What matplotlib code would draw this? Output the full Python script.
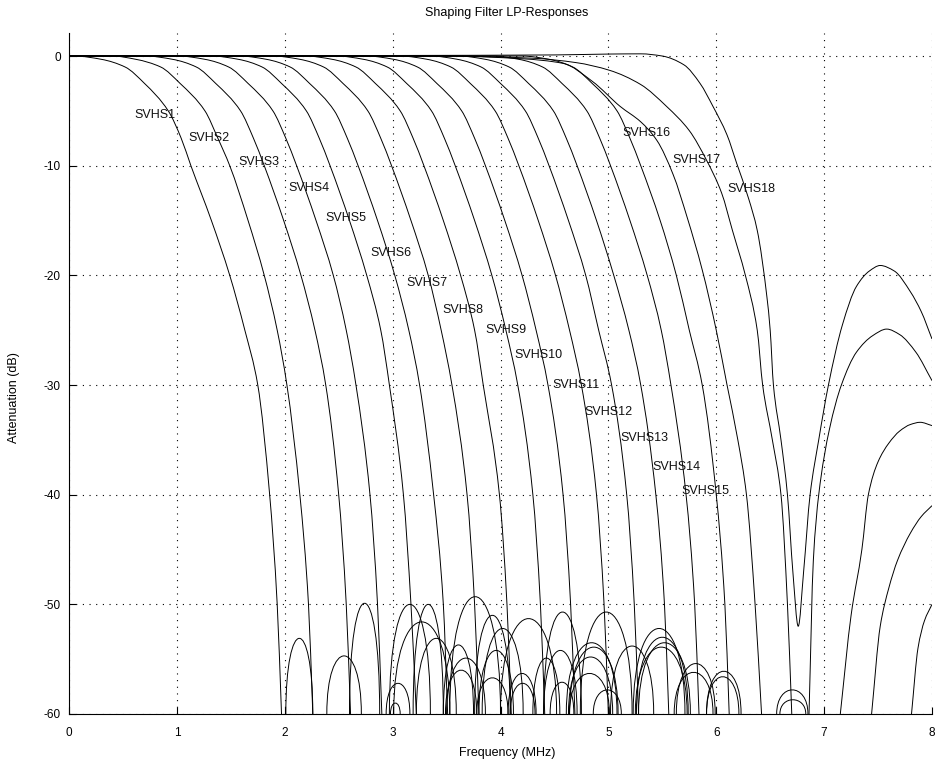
import matplotlib
matplotlib.use("Agg")
import matplotlib.pyplot as plt
from matplotlib.path import Path
from matplotlib.patches import PathPatch

# ---------------- data ----------------
# dB levels at which the main lobes of SVHS1..SVHS15 were read
# (first two entries: origin and the point where the curve leaves the 0 dB line)
levels = [0, 0, -0.3, -1, -2.5, -5, -7.5, -10, -15, -20, -25, -30, -40, -50, -60]

svhs1 = [0, 0.05, 0.30, 0.52, 0.70, 0.92, 1.04, 1.13, 1.32, 1.49, 1.63, 1.75, 1.86, 1.93, 1.97]
svhs2 = [0, 0.40, 0.62, 0.85, 1.03, 1.26, 1.38, 1.49, 1.66, 1.81, 1.93, 2.02, 2.14, 2.22, 2.26]
svhs3 = [0, 0.71, 0.96, 1.18, 1.36, 1.59, 1.71, 1.81, 1.99, 2.15, 2.28, 2.38, 2.50, 2.57, 2.61]
svhs4 = [0, 1.01, 1.26, 1.48, 1.66, 1.89, 2.01, 2.11, 2.29, 2.45, 2.57, 2.66, 2.79, 2.86, 2.90]
svhs5 = [0, 1.32, 1.57, 1.79, 1.97, 2.20, 2.32, 2.42, 2.60, 2.76, 2.89, 2.97, 3.10, 3.17, 3.22]
svhs6 = [0, 1.58, 1.83, 2.05, 2.23, 2.46, 2.58, 2.68, 2.86, 3.02, 3.15, 3.25, 3.38, 3.47, 3.51]
svhs7 = [0, 1.89, 2.14, 2.36, 2.54, 2.77, 2.89, 2.99, 3.17, 3.33, 3.45, 3.55, 3.69, 3.76, 3.80]
svhs8 = [0, 2.19, 2.44, 2.66, 2.84, 3.07, 3.19, 3.29, 3.47, 3.63, 3.76, 3.84, 3.99, 4.06, 4.10]
svhs9 = [0, 2.48, 2.73, 2.95, 3.13, 3.36, 3.48, 3.58, 3.76, 3.92, 4.05, 4.16, 4.30, 4.37, 4.41]
svhs10 = [0, 2.76, 3.01, 3.23, 3.41, 3.64, 3.76, 3.86, 4.04, 4.20, 4.33, 4.44, 4.58, 4.65, 4.69]
svhs11 = [0, 3.07, 3.32, 3.54, 3.72, 3.95, 4.07, 4.17, 4.35, 4.51, 4.64, 4.75, 4.89, 4.96, 5.00]
svhs12 = [0, 3.35, 3.60, 3.82, 4.00, 4.23, 4.35, 4.45, 4.63, 4.79, 4.91, 5.03, 5.17, 5.24, 5.28]
svhs13 = [0, 3.61, 3.86, 4.08, 4.26, 4.49, 4.61, 4.71, 4.89, 5.05, 5.19, 5.30, 5.44, 5.52, 5.56]
svhs14 = [0, 3.92, 4.17, 4.39, 4.57, 4.80, 4.92, 5.02, 5.20, 5.36, 5.49, 5.58, 5.72, 5.80, 5.84]
svhs15 = [0, 4.20, 4.45, 4.67, 4.85, 5.08, 5.20, 5.30, 5.48, 5.63, 5.75, 5.87, 6.00, 6.08, 6.12]

svhs16_f = [0, 3.5, 4.2, 4.58, 4.85, 5.11, 5.30, 5.45, 5.60, 5.73, 5.87, 6.00, 6.10, 6.20, 6.28, 6.36, 6.42]
svhs16_db = [0, 0, -0.25, -0.67, -2.3, -4.6, -6.0, -7.7, -10.8, -14.7, -19.5, -25, -30, -35, -40, -50, -60]

svhs17_f = [0, 3.5, 4.3, 4.7, 5.01, 5.30, 5.54, 5.75, 5.91, 6.05, 6.15, 6.27, 6.38, 6.43, 6.52, 6.60, 6.66, 6.70]
svhs17_db = [0, 0, -0.2, -0.6, -1.3, -2.6, -4.6, -6.8, -9.5, -12.5, -15.9, -20, -25, -30, -35, -40, -50, -60]

svhs18_f = [0, 3.0, 4.5, 5.0, 5.3, 5.5, 5.7, 5.85, 5.97, 6.10, 6.19, 6.30, 6.38, 6.47, 6.50, 6.53,
            6.60, 6.66, 6.71, 6.76, 6.81, 6.87, 6.95, 7.04, 7.17, 7.30, 7.42, 7.52, 7.65, 7.80, 7.90, 8.0]
svhs18_db = [0, 0.05, 0.1, 0.18, 0.2, 0, -0.8, -2.5, -4.6, -7.2, -9.8, -13, -15.9, -22, -25, -30,
             -35, -40, -47, -52, -47, -40, -35, -30, -24.5, -21, -19.6, -19.1, -19.6, -21.5, -23.3, -25.8]

# large stop-band lobes on the right
lobeB_f = [6.86, 6.90, 6.95, 7.05, 7.16, 7.30, 7.45, 7.58, 7.70, 7.85, 8.0]
lobeB_db = [-60, -46, -40, -34, -30, -27, -25.5, -24.9, -25.4, -27, -29.6]
lobeC_f = [7.15, 7.25, 7.35, 7.41, 7.50, 7.60, 7.70, 7.80, 7.89, 8.0]
lobeC_db = [-60, -51, -45, -40, -37, -35.3, -34.2, -33.6, -33.4, -33.7]
lobeD_f = [7.44, 7.52, 7.60, 7.68, 7.80, 7.90, 8.0]
lobeD_db = [-60, -52, -48.5, -46, -43.5, -42, -41]
lobeE_f = [7.81, 7.87, 7.93, 8.0]
lobeE_db = [-60, -54, -51.5, -50]

# small stop-band ripples at the floor: left foot, right foot, peak level (dB)
ripple_left = [2.01, 2.39, 2.60, 2.97, 3.19, 3.01, 3.22, 3.53, 3.76, 3.83, 4.00, 4.40,
               2.94, 2.98, 3.47, 3.50, 3.49, 3.78, 3.80, 4.07, 4.09, 4.30, 4.40, 4.46,
               4.74, 4.61, 4.64, 4.63, 4.64, 4.86, 5.02, 5.23, 5.26, 5.28, 5.25, 5.63,
               5.61, 5.91, 5.91, 6.56, 6.59]
ripple_right = [2.26, 2.71, 2.88, 3.35, 3.47, 3.53, 3.59, 4.00, 4.09, 4.21, 4.52, 4.75,
                3.16, 3.07, 3.75, 3.86, 3.78, 4.07, 4.12, 4.33, 4.32, 4.55, 4.71, 4.68,
                5.22, 5.08, 5.09, 5.04, 5.01, 5.12, 5.42, 5.71, 5.74, 5.76, 5.73, 5.99,
                5.97, 6.23, 6.21, 6.85, 6.83]
ripple_peak = [-53.1, -54.7, -49.9, -50.0, -50.0, -51.6, -53.1, -49.3, -51.0, -52.2, -51.3, -50.7,
               -57.2, -59.0, -53.7, -54.9, -56.0, -56.7, -54.2, -56.3, -57.2, -54.9, -54.2, -57.1,
               -50.7, -53.5, -53.9, -54.8, -56.3, -57.8, -53.8, -52.2, -53.0, -53.5, -53.9, -55.4,
               -56.2, -56.1, -56.6, -57.8, -58.7]

labels = ["SVHS%d" % i for i in range(1, 19)]
label_f = [0.61, 1.11, 1.57, 2.03, 2.38, 2.79, 3.13, 3.46, 3.86, 4.13, 4.48, 4.78, 5.11,
           5.41, 5.68, 5.13, 5.59, 6.10]
label_db = [-5.4, -7.5, -9.7, -12.0, -14.8, -18.0, -20.7, -23.2, -25.0, -27.3, -30.0, -32.5,
            -34.8, -37.5, -39.7, -7.0, -9.5, -12.1]

xticks = [0, 1, 2, 3, 4, 5, 6, 7, 8]
yticks = [0, -10, -20, -30, -40, -50, -60]


# ---------------- drawing helpers ----------------
def smooth_path(xs, ys):
    """Shape-preserving (monotone cubic Hermite) Bezier path through the read points."""
    n = len(xs)
    h = [xs[k + 1] - xs[k] for k in range(n - 1)]
    d = [(ys[k + 1] - ys[k]) / h[k] for k in range(n - 1)]
    m = [0.0] * n
    m[0] = d[0]
    m[-1] = d[-1]
    for k in range(1, n - 1):
        if d[k - 1] * d[k] <= 0:
            m[k] = 0.0
        else:
            w1 = 2 * h[k] + h[k - 1]
            w2 = h[k] + 2 * h[k - 1]
            m[k] = (w1 + w2) / (w1 / d[k - 1] + w2 / d[k])
    verts = [(xs[0], ys[0])]
    codes = [Path.MOVETO]
    for k in range(n - 1):
        verts += [(xs[k] + h[k] / 3.0, ys[k] + m[k] * h[k] / 3.0),
                  (xs[k + 1] - h[k] / 3.0, ys[k + 1] - m[k + 1] * h[k] / 3.0),
                  (xs[k + 1], ys[k + 1])]
        codes += [Path.CURVE4] * 3
    return Path(verts, codes)


plt.rcParams['font.family'] = ['Liberation Sans', 'DejaVu Sans']
plt.rcParams['axes.unicode_minus'] = False
fig = plt.figure(figsize=(9.38, 7.69), dpi=100)
ax = fig.add_axes([69 / 938, 55 / 769, 863 / 938, 681 / 769])

lw = 0.7
col = 'black'


def draw(xs, ys):
    ax.add_patch(PathPatch(smooth_path(xs, ys), fill=False, edgecolor=col, lw=lw))


for fr in [svhs1, svhs2, svhs3, svhs4, svhs5, svhs6, svhs7, svhs8, svhs9, svhs10,
           svhs11, svhs12, svhs13, svhs14, svhs15]:
    draw(fr, levels)
draw(svhs16_f, svhs16_db)
draw(svhs17_f, svhs17_db)
draw(svhs18_f, svhs18_db)
for f, d in [(lobeB_f, lobeB_db), (lobeC_f, lobeC_db), (lobeD_f, lobeD_db), (lobeE_f, lobeE_db)]:
    draw(f, d)

# ripples drawn as smooth Bezier arcs through their read feet and peak
for fl, fr, pk in zip(ripple_left, ripple_right, ripple_peak):
    c = (4 * pk + 60) / 3.0
    verts = [(fl, -60), (fl, c), (fr, c), (fr, -60)]
    p = Path(verts, [Path.MOVETO, Path.CURVE4, Path.CURVE4, Path.CURVE4])
    ax.add_patch(PathPatch(p, fill=False, edgecolor=col, lw=lw))

for t, f, d in zip(labels, label_f, label_db):
    ax.text(f, d, t, fontsize=9, va='center', ha='left', color='#111111')

ax.set_xlim(0, 8)
ax.set_ylim(-60, 2.1)
ax.set_xticks(xticks)
ax.set_yticks(yticks)
ax.tick_params(direction='in', length=5, width=0.8, labelsize=8.5)
ax.tick_params(axis='x', pad=9.5)
ax.tick_params(axis='y', pad=6)
ax.grid(True, linestyle=(0, (1, 5)), color='black', lw=0.8)
for s in ['top', 'right']:
    ax.spines[s].set_visible(False)
ax.set_xlabel('Frequency (MHz)', fontsize=9)
ax.xaxis.set_label_coords(0.5075, -0.0485)
ax.set_ylabel('Attenuation (dB)', fontsize=9)
ax.yaxis.set_label_coords(-0.0562, 0.464)
ax.set_title('Shaping Filter LP-Responses', fontsize=9, pad=12, x=0.5075)

fig.savefig('out.png', dpi=100)
